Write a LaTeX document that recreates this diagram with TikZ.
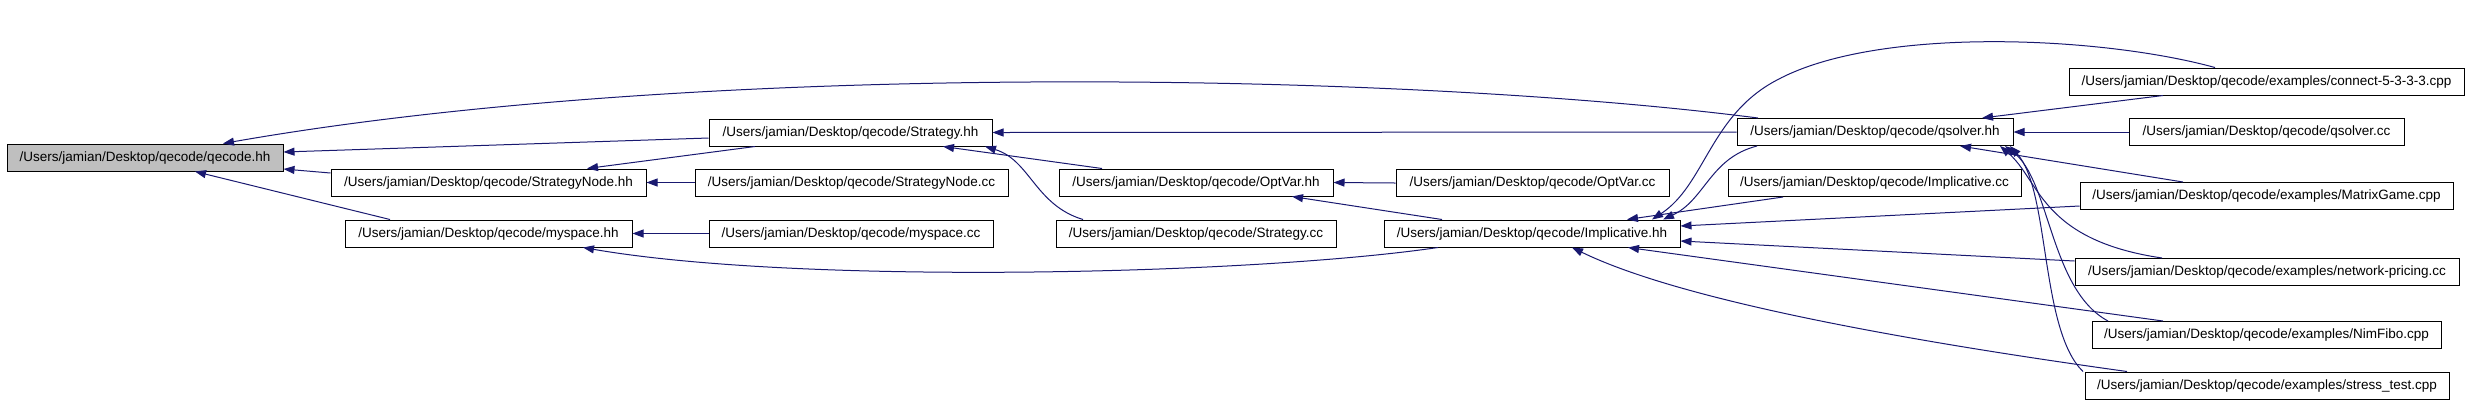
\documentclass[tikz,border=0pt]{standalone}
\usepackage{fontspec}
\newfontfamily\dotfont{Liberation Sans}
\usetikzlibrary{arrows.meta}
\definecolor{edgeblue}{RGB}{25,25,112}
\definecolor{rootgray}{RGB}{191,191,191}

\begin{document}
\begin{tikzpicture}[x=0.5pt,y=-0.5pt,
  fnode/.style={draw=black,line width=0.5pt,fill=white,minimum height=13.5pt,inner sep=0pt,font=\dotfont\fontsize{6.75}{8}\selectfont},
  incl/.style={draw=edgeblue,line width=0.5pt,-{Triangle[length=5.5pt,width=4pt]}}]
\useasboundingbox (0,0) rectangle (2469,404);
%the header itself
\node[fnode,fill=rootgray,minimum width=138pt] (qecode) at (145,157.5) {/Users/jamian/Desktop/qecode/qecode.hh};
%second column
\node[fnode,minimum width=157.5pt] (StrategyNodeHH) at (488.5,182.5) {/Users/jamian/Desktop/qecode/StrategyNode.hh};
\node[fnode,minimum width=143.5pt] (myspaceHH) at (488.5,233.5) {/Users/jamian/Desktop/qecode/myspace.hh};
%third column
\node[fnode,minimum width=141.5pt] (StrategyHH) at (850.5,132.5) {/Users/jamian/Desktop/qecode/Strategy.hh};
\node[fnode,minimum width=156.5pt] (StrategyNodeCC) at (851.5,182.5) {/Users/jamian/Desktop/qecode/StrategyNode.cc};
\node[fnode,minimum width=142pt] (myspaceCC) at (851,233.5) {/Users/jamian/Desktop/qecode/myspace.cc};
%fourth column
\node[fnode,minimum width=137pt] (OptVarHH) at (1196,182.5) {/Users/jamian/Desktop/qecode/OptVar.hh};
\node[fnode,minimum width=140pt] (StrategyCC) at (1196,233.5) {/Users/jamian/Desktop/qecode/Strategy.cc};
%fifth column
\node[fnode,minimum width=136.5pt] (OptVarCC) at (1532.5,183) {/Users/jamian/Desktop/qecode/OptVar.cc};
\node[fnode,minimum width=148pt] (ImplicativeHH) at (1532,233.5) {/Users/jamian/Desktop/qecode/Implicative.hh};
%sixth column
\node[fnode,minimum width=138pt] (qsolverHH) at (1875,132) {/Users/jamian/Desktop/qecode/qsolver.hh};
\node[fnode,minimum width=146.5pt] (ImplicativeCC) at (1874.5,183) {/Users/jamian/Desktop/qecode/Implicative.cc};
%the sources on the right
\node[fnode,minimum width=197.5pt] (connect) at (2266.5,81.5) {/Users/jamian/Desktop/qecode/examples/connect-5-3-3-3.cpp};
\node[fnode,minimum width=137.5pt] (qsolverCC) at (2266.5,132) {/Users/jamian/Desktop/qecode/qsolver.cc};
\node[fnode,minimum width=186.5pt] (MatrixGame) at (2266.5,196) {/Users/jamian/Desktop/qecode/examples/MatrixGame.cpp};
\node[fnode,minimum width=192pt] (network) at (2267,272) {/Users/jamian/Desktop/qecode/examples/network-pricing.cc};
\node[fnode,minimum width=174.5pt] (NimFibo) at (2266.5,335) {/Users/jamian/Desktop/qecode/examples/NimFibo.cpp};
\node[fnode,minimum width=182pt] (stress) at (2267,385.5) {/Users/jamian/Desktop/qecode/examples/stress\_test.cpp};
%edges into qecode.hh
\draw[incl] ([yshift=-2.75pt]StrategyHH.west) -- ([yshift=2.75pt]qecode.east);
\draw[incl] ([yshift=4.75pt]StrategyNodeHH.west) -- ([yshift=-5.75pt]qecode.east);
\draw[incl] ([xshift=-49.25pt]myspaceHH.north) -- ([xshift=25pt]qecode.south);
\draw[incl] ([xshift=-58.5pt]qsolverHH.north) .. controls (1400,72) and (700,60) .. ([xshift=39pt]qecode.north);
%edges into StrategyNode.hh and myspace.hh
\draw[incl] ([xshift=-47.75pt]StrategyHH.south) -- ([xshift=49.25pt]StrategyNodeHH.north);
\draw[incl] (StrategyNodeCC.west) -- (StrategyNodeHH.east);
\draw[incl] (myspaceCC.west) -- (myspaceHH.east);
\draw[incl] ([xshift=-47pt]ImplicativeHH.south) .. controls (1250,275) and (800,285) .. ([xshift=47.25pt]myspaceHH.south);
%edges into Strategy.hh and OptVar.hh
\draw[incl] (qsolverHH.west) -- (StrategyHH.east);
\draw[incl] ([xshift=-47pt]OptVarHH.north) -- ([xshift=46.25pt]StrategyHH.south);
\draw[incl] ([xshift=-56.5pt]StrategyCC.north) .. controls (1035,205) and (1030,160) .. ([xshift=67.25pt]StrategyHH.south);
\draw[incl] (OptVarCC.west) -- (OptVarHH.east);
\draw[incl] ([xshift=-45pt]ImplicativeHH.north) -- ([xshift=48pt]OptVarHH.south);
%edges into Implicative.hh
\draw[incl] ([xshift=-59pt]qsolverHH.south) .. controls (1710,158) and (1705,200) .. ([xshift=65.5pt]ImplicativeHH.north);
\draw[incl] ([xshift=-25.75pt]connect.north) .. controls (2100,36) and (1877,26) .. (1777,80) .. controls (1710,115) and (1705,185) .. ([xshift=60pt]ImplicativeHH.north);
\draw[incl] ([xshift=-45.75pt]ImplicativeCC.south) -- ([xshift=47.5pt]ImplicativeHH.north);
\draw[incl] ([yshift=-5pt]MatrixGame.west) -- ([yshift=3.75pt]ImplicativeHH.east);
\draw[incl] ([yshift=5.5pt]network.west) -- ([yshift=-3.75pt]ImplicativeHH.east);
\draw[incl] ([xshift=-51.75pt]NimFibo.north) -- ([xshift=48pt]ImplicativeHH.south);
\draw[incl] ([xshift=-70pt]stress.north) .. controls (1900,340) and (1680,300) .. ([xshift=20pt]ImplicativeHH.south);
%edges into qsolver.hh
\draw[incl] ([xshift=-51.75pt]connect.south) -- ([xshift=53.5pt]qsolverHH.north);
\draw[incl] (qsolverCC.west) -- (qsolverHH.east);
\draw[incl] ([xshift=-41.75pt]MatrixGame.north) -- ([xshift=42.5pt]qsolverHH.south);
\draw[incl] ([xshift=-52.5pt]network.north) .. controls (2040,240) and (2040,180) .. ([xshift=62.5pt]qsolverHH.south);
\draw[incl] ([xshift=-79.25pt]NimFibo.north) .. controls (2050,290) and (2050,180) .. ([xshift=65pt]qsolverHH.south);
\draw[incl] ([xshift=-92pt]stress.north) .. controls (2040,330) and (2050,190) .. ([xshift=67.5pt]qsolverHH.south);
\end{tikzpicture}
\end{document}
